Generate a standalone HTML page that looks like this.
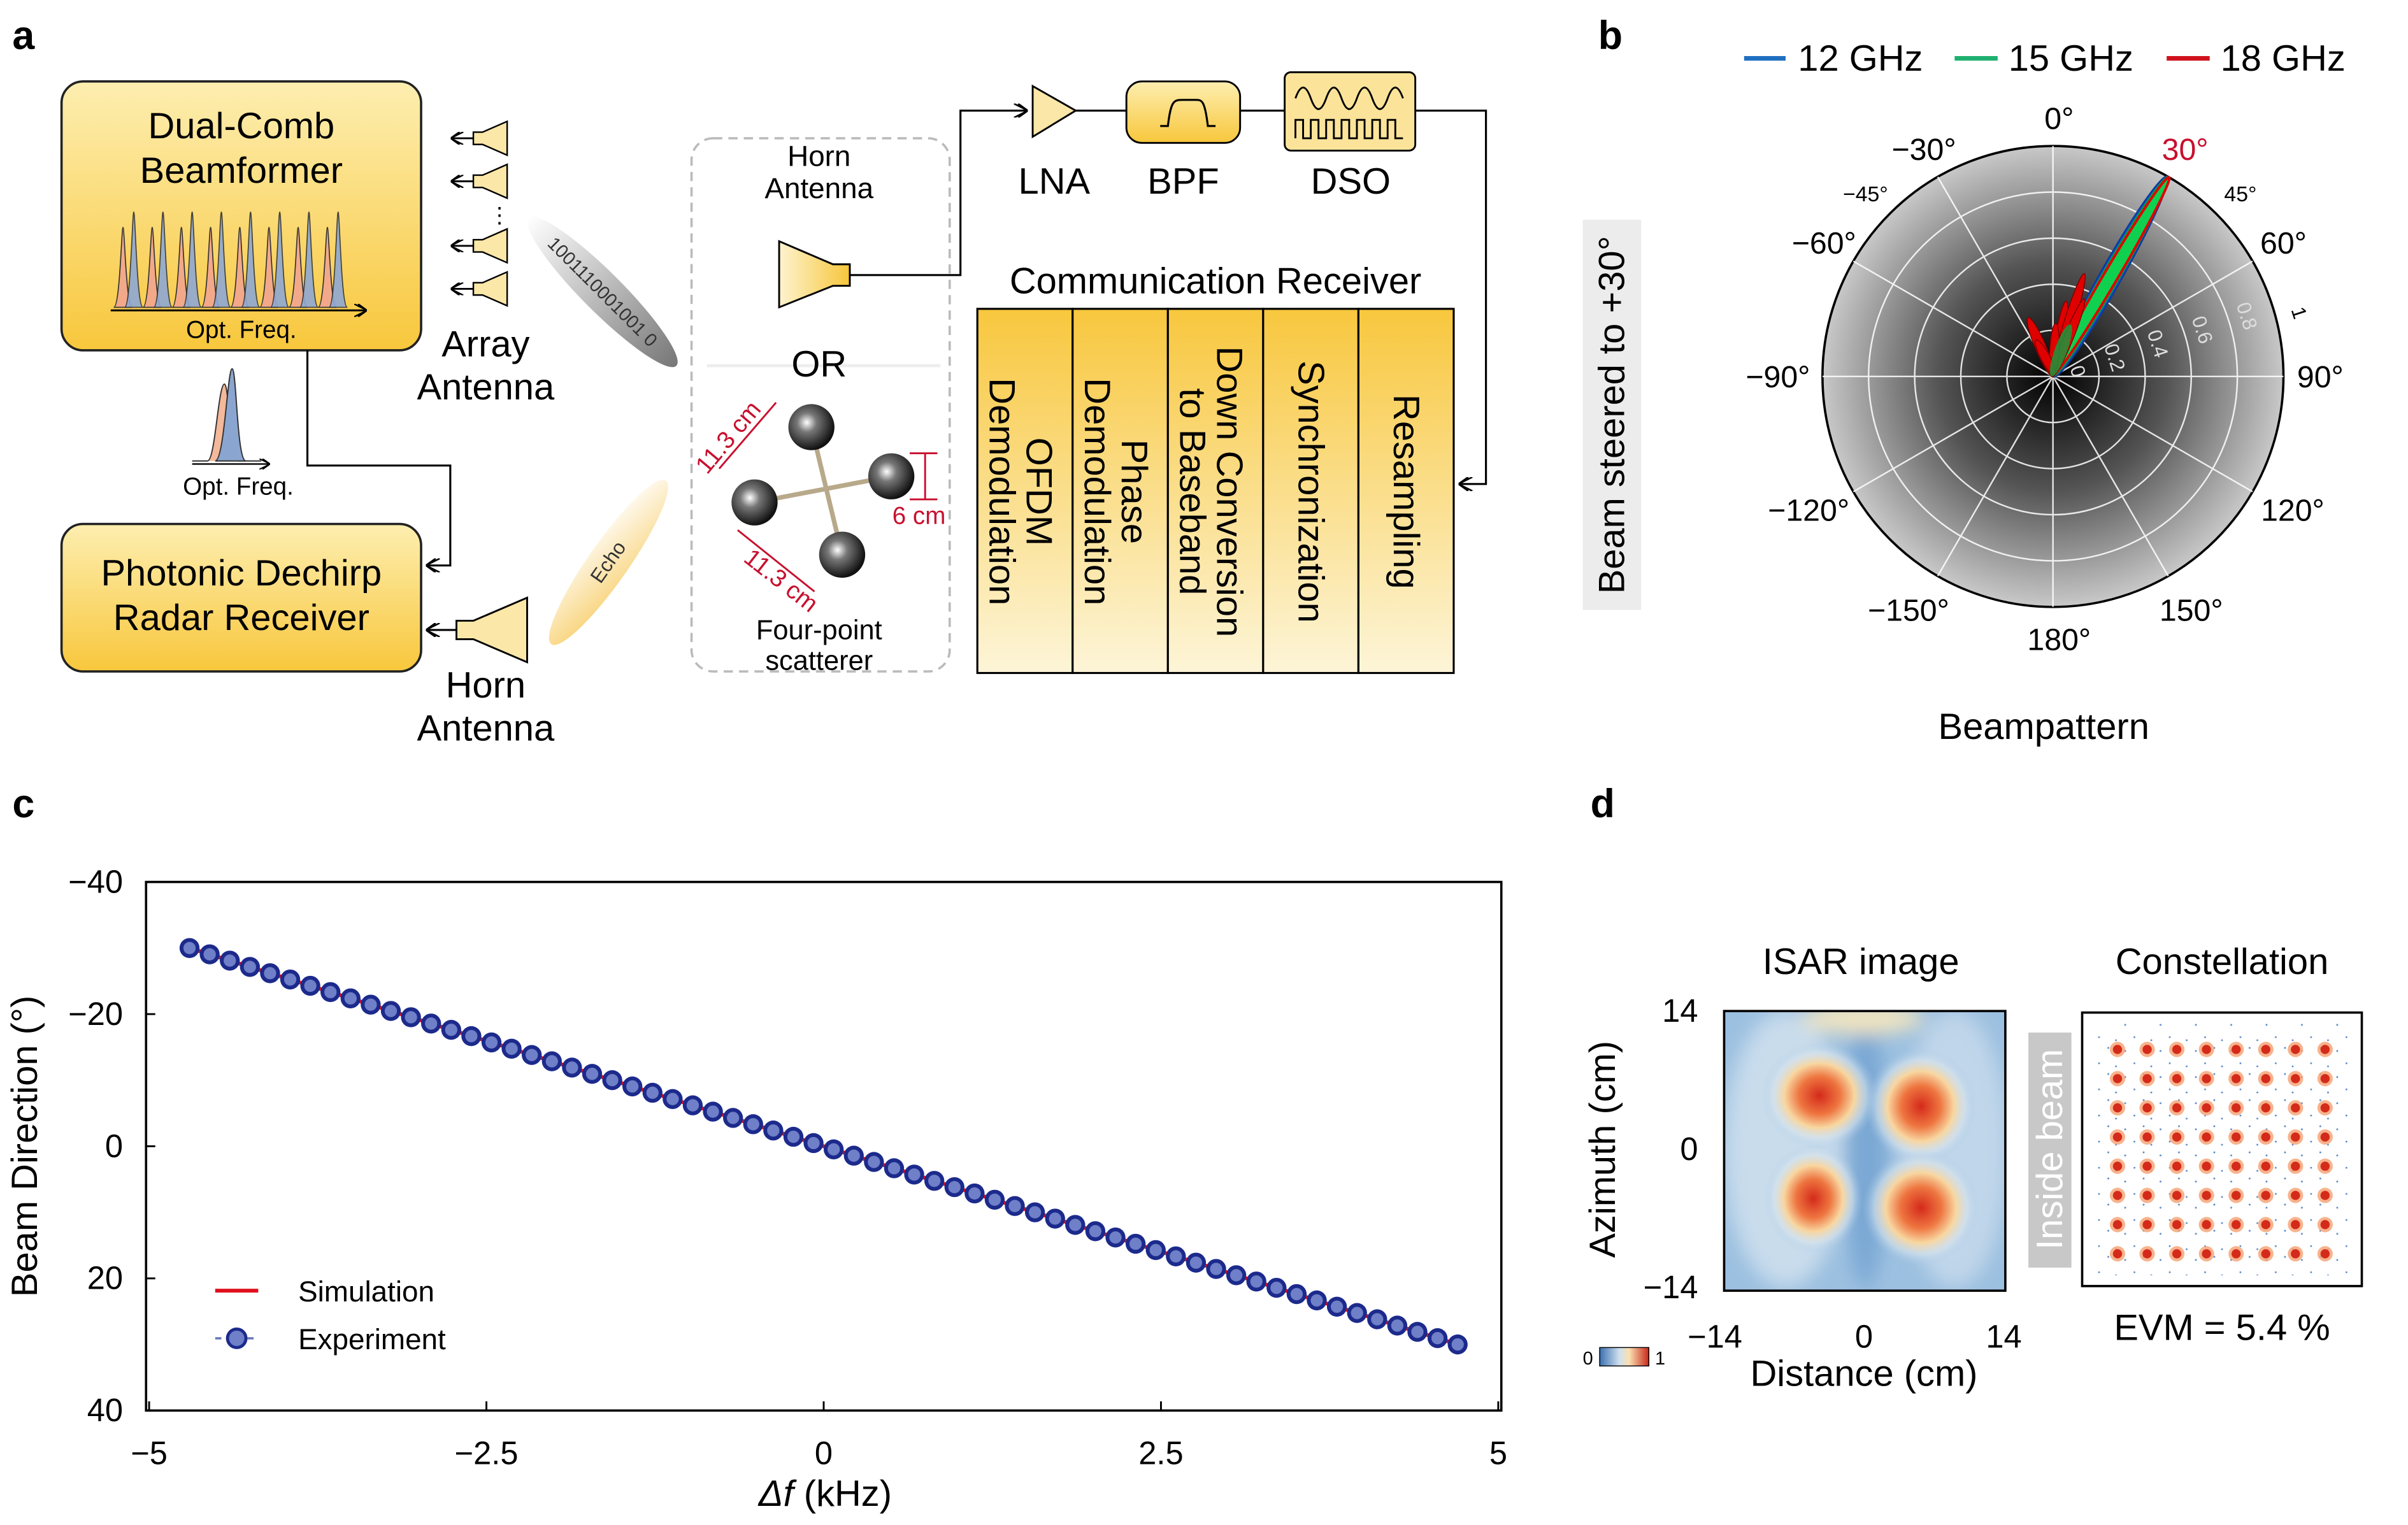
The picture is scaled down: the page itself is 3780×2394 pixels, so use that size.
<!DOCTYPE html>
<html><head><meta charset="utf-8">
<style>
html,body{margin:0;padding:0;background:#fff;}
svg{display:block;font-family:"Liberation Sans",Arial,sans-serif;}
</style></head>
<body>
<svg width="3780" height="2394" viewBox="0 0 1567 992.5" xmlns="http://www.w3.org/2000/svg" xmlns:xlink="http://www.w3.org/1999/xlink">
<defs>
<linearGradient id="yb" x1="0" y1="0" x2="0" y2="1">
<stop offset="0" stop-color="#fdeeb0"/><stop offset="1" stop-color="#f8c73c"/></linearGradient>
<linearGradient id="yh" x1="1" y1="0" x2="0" y2="0">
<stop offset="0" stop-color="#f7c63a"/><stop offset="1" stop-color="#fdf3cf"/></linearGradient>
<linearGradient id="yv" x1="0" y1="0" x2="0" y2="1">
<stop offset="0" stop-color="#f8c73e"/><stop offset="1" stop-color="#fdf5d8"/></linearGradient>
<radialGradient id="pg" cx="0.5" cy="0.5" r="0.5">
<stop offset="0" stop-color="#000"/><stop offset="0.5" stop-color="#555"/><stop offset="1" stop-color="#c8c8c8"/></radialGradient>
<linearGradient id="gray" x1="0" y1="0" x2="1" y2="0">
<stop offset="0" stop-color="#fff"/><stop offset="0.5" stop-color="#bbb"/><stop offset="1" stop-color="#777"/></linearGradient>
<linearGradient id="echo" x1="1" y1="0" x2="0" y2="1">
<stop offset="0" stop-color="#fff"/><stop offset="1" stop-color="#f8d070"/></linearGradient>
<radialGradient id="blob" cx="0.5" cy="0.5" r="0.5">
<stop offset="0" stop-color="#d42a1a"/><stop offset="0.35" stop-color="#ee7540"/><stop offset="0.6" stop-color="#f8d6a0"/><stop offset="0.8" stop-color="#d8e4ec" stop-opacity="0.6"/><stop offset="1" stop-color="#a8c8e4" stop-opacity="0"/></radialGradient>
<radialGradient id="sph" cx="0.4" cy="0.4" r="0.6">
<stop offset="0" stop-color="#fff"/><stop offset="0.35" stop-color="#777"/><stop offset="1" stop-color="#111"/></radialGradient>
<linearGradient id="cb" x1="0" y1="0" x2="1" y2="0">
<stop offset="0" stop-color="#3a6fb0"/><stop offset="0.4" stop-color="#cfe0ee"/><stop offset="0.6" stop-color="#fbe0b0"/><stop offset="1" stop-color="#c8281a"/></linearGradient>
<filter id="bl"><feGaussianBlur stdDeviation="6"/></filter>
<marker id="ar" viewBox="0 0 10 10" refX="9" refY="5" markerWidth="7" markerHeight="7" orient="auto-start-reverse"><path d="M0,0 L10,5 L0,10 M3,0 L10,5 L3,10" fill="none" stroke="#000" stroke-width="1.2"/></marker>
<g id="pk">
<path d="M-6,200 C-2,200 -1,148 0,148 C1,148 2,200 6,200Z" fill="#f2a98a" stroke="#333" stroke-width="0.7"/>
<path d="M1,200 C5,200 6,138 7,138 C8,138 9,200 13,200Z" fill="#8ea8d4" stroke="#333" stroke-width="0.7" opacity="0.9"/>
</g>
<g id="hn">
<line x1="310" y1="0" x2="294" y2="0" stroke="#000" stroke-width="1.2" marker-end="url(#ar)"/>
<path d="M308,-4 L314,-4 L330,-11 L330,11 L314,4 L308,4Z" fill="#fbe7a8" stroke="#000" stroke-width="1"/>
</g>
<pattern id="cp" patternUnits="userSpaceOnUse" x="1368.35" y="673.5" width="19.3" height="19">
<circle cx="9.65" cy="9.5" r="5" fill="#f5a070" opacity="0.8"/><circle cx="9.65" cy="9.5" r="3" fill="#d42a1a"/></pattern>
<pattern id="np" patternUnits="userSpaceOnUse" width="23" height="17">
<circle cx="3" cy="4" r="0.6" fill="#5a8ac8"/><circle cx="15" cy="2" r="0.6" fill="#5a8ac8"/><circle cx="9" cy="12" r="0.6" fill="#5a8ac8"/><circle cx="20" cy="14" r="0.6" fill="#5a8ac8"/></pattern>
</defs>

<g font-size="24" fill="#000">
<text x="8" y="32" font-size="26" font-weight="bold">a</text>
<text x="1040" y="32" font-size="26" font-weight="bold">b</text>
<text x="8" y="532" font-size="26" font-weight="bold">c</text>
<text x="1035" y="532" font-size="26" font-weight="bold">d</text>

<rect x="40" y="53" width="234" height="175" rx="14" fill="url(#yb)" stroke="#222" stroke-width="1.5"/>
<text x="157" y="90" text-anchor="middle">Dual-Comb</text>
<text x="157" y="119" text-anchor="middle">Beamformer</text>
<use xlink:href="#pk" x="80"/><use xlink:href="#pk" x="99"/><use xlink:href="#pk" x="118"/><use xlink:href="#pk" x="137"/>
<use xlink:href="#pk" x="156"/><use xlink:href="#pk" x="175"/><use xlink:href="#pk" x="194"/><use xlink:href="#pk" x="213"/>
<line x1="72" y1="202" x2="238" y2="202" stroke="#000" stroke-width="1.2" marker-end="url(#ar)"/>
<text x="157" y="220" text-anchor="middle" font-size="16">Opt. Freq.</text>

<use xlink:href="#hn" y="90"/><use xlink:href="#hn" y="118"/><use xlink:href="#hn" y="160"/><use xlink:href="#hn" y="188"/>
<text x="318" y="145" font-size="14">⋮</text>
<text x="316" y="232" text-anchor="middle">Array</text>
<text x="316" y="260" text-anchor="middle">Antenna</text>
<ellipse cx="392" cy="190" rx="68" ry="13" transform="rotate(45 392 190)" fill="url(#gray)"/>
<text x="392" y="194" font-size="12" fill="#333" text-anchor="middle" transform="rotate(45 392 190)">1001110001001 0</text>

<path d="M125,300 L135,300 C140,300 142,250 146,250 C149,250 150,300 155,300 L170,300" fill="#f4b89a" stroke="#333" stroke-width="0.8"/>
<path d="M140,300 C146,300 148,240 151,240 C154,240 154,300 160,300Z" fill="#8aa6d0" stroke="#333" stroke-width="0.8"/>
<line x1="125" y1="302" x2="175" y2="302" stroke="#000" stroke-width="1" marker-end="url(#ar)"/>
<text x="155" y="322" text-anchor="middle" font-size="16">Opt. Freq.</text>
<polyline points="200,228 200,303 293,303 293,368 278,368" fill="none" stroke="#000" stroke-width="1.3" marker-end="url(#ar)"/>

<rect x="40" y="341" width="234" height="96" rx="14" fill="url(#yb)" stroke="#222" stroke-width="1.5"/>
<text x="157" y="381" text-anchor="middle">Photonic Dechirp</text>
<text x="157" y="410" text-anchor="middle">Radar Receiver</text>
<line x1="297" y1="410" x2="278" y2="410" stroke="#000" stroke-width="1.3" marker-end="url(#ar)"/>
<path d="M297,404 L308,404 L343,389 L343,431 L308,416 L297,416Z" fill="#fbe7a8" stroke="#000" stroke-width="1.2"/>
<text x="316" y="454" text-anchor="middle">Horn</text>
<text x="316" y="482" text-anchor="middle">Antenna</text>
<ellipse cx="396" cy="366" rx="65" ry="13" transform="rotate(-55 396 366)" fill="url(#echo)"/>
<text x="396" y="370" font-size="13" fill="#333" text-anchor="middle" transform="rotate(-55 396 366)">Echo</text>

<rect x="450" y="90" width="168" height="347" rx="14" fill="none" stroke="#bbb" stroke-width="1.5" stroke-dasharray="6,4"/>
<text x="533" y="108" text-anchor="middle" font-size="19">Horn</text>
<text x="533" y="129" text-anchor="middle" font-size="19">Antenna</text>
<path d="M507,157 L542,172 L553,172 L553,186 L542,186 L507,200Z" fill="url(#yh)" stroke="#000" stroke-width="1.2"/>
<line x1="460" y1="238" x2="612" y2="238" stroke="#eee" stroke-width="2"/>
<text x="533" y="245" text-anchor="middle">OR</text>
<g stroke="#b8a98a" stroke-width="3"><line x1="528" y1="278" x2="548" y2="361"/><line x1="580" y1="310" x2="491" y2="327"/></g>
<circle cx="528" cy="278" r="15" fill="url(#sph)"/><circle cx="580" cy="310" r="15" fill="url(#sph)"/>
<circle cx="491" cy="327" r="15" fill="url(#sph)"/><circle cx="548" cy="361" r="15" fill="url(#sph)"/>
<g stroke="#c8102e" stroke-width="1.2" fill="none">
<line x1="468" y1="305" x2="505" y2="262"/><line x1="480" y1="345" x2="530" y2="385"/>
<line x1="602" y1="295" x2="602" y2="325"/><line x1="592" y1="295" x2="610" y2="295"/><line x1="592" y1="325" x2="610" y2="325"/></g>
<text x="478" y="288" font-size="16" fill="#c8102e" transform="rotate(-50 478 288)" text-anchor="middle">11.3 cm</text>
<text x="505" y="382" font-size="16" fill="#c8102e" transform="rotate(38 505 382)" text-anchor="middle">11.3 cm</text>
<text x="598" y="341" font-size="16" fill="#c8102e" text-anchor="middle">6 cm</text>
<text x="533" y="416" text-anchor="middle" font-size="18">Four-point</text>
<text x="533" y="436" text-anchor="middle" font-size="18">scatterer</text>

<polyline points="553,179 625,179 625,72 668,72" fill="none" stroke="#000" stroke-width="1.3" marker-end="url(#ar)"/>
<path d="M672,56 L700,72 L672,89Z" fill="#fbe7a8" stroke="#000" stroke-width="1.2"/>
<line x1="700" y1="72" x2="733" y2="72" stroke="#000" stroke-width="1.3"/>
<rect x="733" y="53" width="74" height="40" rx="10" fill="url(#yb)" stroke="#000" stroke-width="1.2"/>
<path d="M755,82 L760,82 C762,65 764,65 770,65 L778,65 C782,65 784,65 786,82 L791,82" fill="none" stroke="#000" stroke-width="1.3"/>
<line x1="807" y1="72" x2="836" y2="72" stroke="#000" stroke-width="1.3"/>
<rect x="836" y="47" width="85" height="51" rx="4" fill="#fbe49a" stroke="#000" stroke-width="1.2"/>
<path d="M843,64 q5,-14 10,0 t10,0 t10,0 t10,0 t10,0 t10,0 t10,0" fill="none" stroke="#000" stroke-width="1.2"/>
<path d="M843,90 L843,78 L848,78 L848,90 L853,90 L853,78 L858,78 L858,90 L863,90 L863,78 L868,78 L868,90 L873,90 L873,78 L878,78 L878,90 L883,90 L883,78 L888,78 L888,90 L893,90 L893,78 L898,78 L898,90 L903,90 L903,78 L908,78 L908,90 L913,90" fill="none" stroke="#000" stroke-width="1.2"/>
<polyline points="921,72 967,72 967,315 950,315" fill="none" stroke="#000" stroke-width="1.3" marker-end="url(#ar)"/>
<text x="686" y="126" text-anchor="middle">LNA</text>
<text x="770" y="126" text-anchor="middle">BPF</text>
<text x="879" y="126" text-anchor="middle">DSO</text>
<text x="791" y="191" text-anchor="middle">Communication Receiver</text>
<g stroke="#000" stroke-width="1.3" fill="url(#yv)">
<rect x="636" y="201" width="62" height="237"/><rect x="698" y="201" width="62" height="237"/><rect x="760" y="201" width="62" height="237"/><rect x="822" y="201" width="62" height="237"/><rect x="884" y="201" width="62" height="237"/></g>
<g text-anchor="middle">
<text x="668" y="320" transform="rotate(90 668 320)">OFDM</text>
<text x="644" y="320" transform="rotate(90 644 320)">Demodulation</text>
<text x="730" y="320" transform="rotate(90 730 320)">Phase</text>
<text x="706" y="320" transform="rotate(90 706 320)">Demodulation</text>
<text x="792" y="320" transform="rotate(90 792 320)">Down Conversion</text>
<text x="768" y="320" transform="rotate(90 768 320)">to Baseband</text>
<text x="845" y="320" transform="rotate(90 845 320)">Synchronization</text>
<text x="907" y="320" transform="rotate(90 907 320)">Resampling</text>
</g>

<!-- panel b -->
<g stroke-width="3"><line x1="1135" y1="38" x2="1162" y2="38" stroke="#1f6fc0"/><line x1="1272" y1="38" x2="1300" y2="38" stroke="#1fb070"/><line x1="1410" y1="38" x2="1438" y2="38" stroke="#d0121e"/></g>
<text x="1170" y="46">12 GHz</text><text x="1307" y="46">15 GHz</text><text x="1445" y="46">18 GHz</text>
<circle cx="1336" cy="245" r="150" fill="url(#pg)" stroke="#000" stroke-width="1.5"/>
<g stroke="#fff" stroke-width="1" fill="none" opacity="0.85">
<circle cx="1336" cy="245" r="30"/><circle cx="1336" cy="245" r="60"/><circle cx="1336" cy="245" r="90"/><circle cx="1336" cy="245" r="120"/>
<line x1="1336" y1="95" x2="1336" y2="395"/><line x1="1186" y1="245" x2="1486" y2="245"/>
<line x1="1261" y1="115.1" x2="1411" y2="374.9"/><line x1="1411" y1="115.1" x2="1261" y2="374.9"/>
<line x1="1206.1" y1="170" x2="1465.9" y2="320"/><line x1="1465.9" y1="170" x2="1206.1" y2="320"/>
</g>
<g stroke-width="1">
<ellipse cx="1373.5" cy="180" rx="75" ry="7" transform="rotate(-60.5 1373.5 180)" fill="#1050d0" stroke="#0a3aa0"/>
<ellipse cx="1373.5" cy="180" rx="75" ry="5.5" transform="rotate(-60 1373.5 180)" fill="#10d050" stroke="#0a9a3a"/>
<ellipse cx="1373.5" cy="180" rx="75" ry="4.5" transform="rotate(-59.5 1373.5 180)" fill="none" stroke="#e00000" stroke-width="1.6"/>
<g fill="#e00000" stroke="#700" stroke-width="0.6">
<ellipse cx="1340.3" cy="220.4" rx="25" ry="3" transform="rotate(-80 1340.3 220.4)"/>
<ellipse cx="1346.2" cy="211.5" rx="35" ry="3.5" transform="rotate(-73 1346.2 211.5)"/>
<ellipse cx="1346.3" cy="219.5" rx="27" ry="3" transform="rotate(-68 1346.3 219.5)"/>
<ellipse cx="1328" cy="226" rx="21" ry="3.5" transform="rotate(-113 1328 226)"/>
<ellipse cx="1336.9" cy="227.5" rx="17" ry="3" transform="rotate(-87 1336.9 227.5)"/>
<ellipse cx="1331" cy="232.7" rx="13" ry="3" transform="rotate(-118 1331 232.7)"/>
</g>
<ellipse cx="1341.2" cy="228" rx="18" ry="4" transform="rotate(-70 1341.2 228)" fill="#10a040" opacity="0.8"/>
</g>
<g font-size="20" text-anchor="middle">
<text x="1340" y="84">0°</text><text x="1252" y="104">−30°</text><text x="1422" y="104" fill="#c8102e">30°</text>
<text x="1214" y="131" font-size="14">−45°</text><text x="1458" y="131" font-size="14">45°</text>
<text x="1187" y="165">−60°</text><text x="1486" y="165">60°</text>
<text x="1157" y="252">−90°</text><text x="1510" y="252">90°</text>
<text x="1177" y="339">−120°</text><text x="1492" y="339">120°</text>
<text x="1242" y="404">−150°</text><text x="1426" y="404">150°</text>
<text x="1340" y="423">180°</text></g>
<g font-size="13" fill="#ddd" text-anchor="middle">
<text x="1348" y="243" transform="rotate(72 1348 243)">0</text>
<text x="1372" y="234" transform="rotate(72 1372 234)">0.2</text>
<text x="1400" y="225" transform="rotate(72 1400 225)">0.4</text>
<text x="1429" y="216" transform="rotate(72 1429 216)">0.6</text>
<text x="1458" y="207" transform="rotate(72 1458 207)">0.8</text>
<text x="1492" y="205" fill="#000" transform="rotate(72 1492 205)">1</text></g>
<rect x="1030" y="143" width="38" height="254" fill="#ececec"/>
<text x="1057" y="270" text-anchor="middle" transform="rotate(-90 1057 270)">Beam steered to +30°</text>
<text x="1330" y="481" text-anchor="middle">Beampattern</text>

<!-- panel c -->
<rect x="95" y="574" width="882" height="344" fill="none" stroke="#000" stroke-width="1.5"/>
<g stroke="#000" stroke-width="1.2">
<line x1="97" y1="918" x2="97" y2="912"/><line x1="316.5" y1="918" x2="316.5" y2="912"/><line x1="536" y1="918" x2="536" y2="912"/><line x1="755.5" y1="918" x2="755.5" y2="912"/><line x1="975" y1="918" x2="975" y2="912"/>
<line x1="95" y1="574" x2="101" y2="574"/><line x1="95" y1="660" x2="101" y2="660"/><line x1="95" y1="746" x2="101" y2="746"/><line x1="95" y1="832" x2="101" y2="832"/><line x1="95" y1="918" x2="101" y2="918"/></g>
<g font-size="21" text-anchor="middle">
<text x="97" y="953">−5</text><text x="316.5" y="953">−2.5</text><text x="536" y="953">0</text><text x="755.5" y="953">2.5</text><text x="975" y="953">5</text></g>
<g font-size="21" text-anchor="end">
<text x="80" y="581">−40</text><text x="80" y="667">−20</text><text x="80" y="753">0</text><text x="80" y="839">20</text><text x="80" y="925">40</text></g>
<line x1="123.3" y1="617" x2="948.6" y2="875" stroke="#e0101e" stroke-width="2.5"/>
<line x1="123.3" y1="617" x2="948.6" y2="875" stroke="#1c2a8c" stroke-width="13" stroke-linecap="round" stroke-dasharray="0 13.725"/>
<line x1="123.3" y1="617" x2="948.6" y2="875" stroke="#6f7fc8" stroke-width="8" stroke-linecap="round" stroke-dasharray="0 13.725"/>
<line x1="140" y1="840" x2="168" y2="840" stroke="#e0101e" stroke-width="2.5"/>
<text x="194" y="847" font-size="19">Simulation</text>
<line x1="140" y1="871" x2="168" y2="871" stroke="#6a7ab8" stroke-width="1.5" stroke-dasharray="4,3"/>
<circle cx="154" cy="871" r="6" fill="#6f7fc8" stroke="#1c2a8c" stroke-width="2"/>
<text x="194" y="878" font-size="19">Experiment</text>
<text x="537" y="980" text-anchor="middle"><tspan font-style="italic">Δf</tspan> (kHz)</text>
<text x="24" y="746" text-anchor="middle" transform="rotate(-90 24 746)">Beam Direction (°)</text>

<!-- panel d -->
<text x="1211" y="634" text-anchor="middle">ISAR image</text>
<text x="1446" y="634" text-anchor="middle">Constellation</text>
<svg x="1122" y="658" width="183" height="182" viewBox="0 0 183 182">
<rect width="183" height="182" fill="#9cc0e0"/>
<g filter="url(#bl)">
<ellipse cx="40" cy="90" rx="40" ry="90" fill="#c8dcec"/>
<ellipse cx="92" cy="90" rx="14" ry="90" fill="#7aa8d4"/>
<ellipse cx="150" cy="90" rx="35" ry="90" fill="#c0d6ea"/>
<ellipse cx="90" cy="5" rx="40" ry="10" fill="#f0e4c0"/>
</g>
<ellipse cx="62" cy="55" rx="38" ry="35" fill="url(#blob)"/>
<ellipse cx="128" cy="62" rx="36" ry="38" fill="url(#blob)"/>
<ellipse cx="58" cy="122" rx="32" ry="36" fill="url(#blob)"/>
<ellipse cx="128" cy="128" rx="38" ry="38" fill="url(#blob)"/>
</svg>
<rect x="1122" y="658" width="183" height="182" fill="none" stroke="#000" stroke-width="1.5"/>
<g font-size="21" text-anchor="end"><text x="1105" y="665">14</text><text x="1105" y="755">0</text><text x="1105" y="845">−14</text></g>
<g font-size="21" text-anchor="middle"><text x="1116" y="877">−14</text><text x="1213" y="877">0</text><text x="1304" y="877">14</text></g>
<text x="1213" y="902" text-anchor="middle">Distance (cm)</text>
<text x="1051" y="748" text-anchor="middle" transform="rotate(-90 1051 748)">Azimuth (cm)</text>
<rect x="1041" y="877" width="32" height="12" fill="url(#cb)" stroke="#000" stroke-width="0.6"/>
<text x="1030" y="888" font-size="12">0</text><text x="1077" y="888" font-size="12">1</text>
<rect x="1320" y="672" width="28" height="153" fill="#c8c8c8"/>
<text x="1342" y="748" text-anchor="middle" fill="#fff" transform="rotate(-90 1342 748)">Inside beam</text>
<rect x="1355" y="659" width="182" height="178" fill="#fff" stroke="#000" stroke-width="1.5"/>
<rect x="1362" y="666" width="168" height="164" fill="url(#np)"/>
<rect x="1368.35" y="673.5" width="154.4" height="152" fill="url(#cp)"/>
<text x="1446" y="872" text-anchor="middle">EVM = 5.4 %</text>
</g>
</svg>
</body></html>
